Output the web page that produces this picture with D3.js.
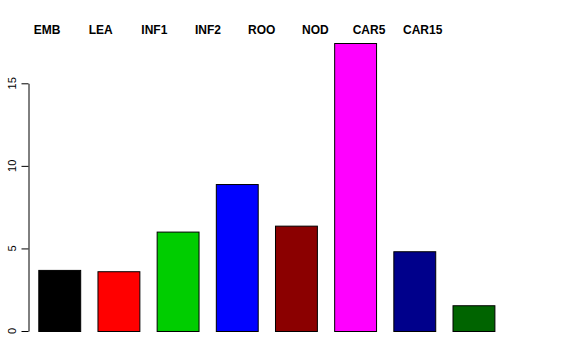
<!DOCTYPE html>
<html>
<head>
<meta charset="utf-8">
<script src="https://cdn.jsdelivr.net/npm/d3@7"></script>
<style>
  body { margin: 0; background: #fff; }
  text { font-family: "Liberation Sans", Arial, sans-serif; }
</style>
</head>
<body>
<svg width="576" height="360"></svg>
<script>
var tissues = ["EMB", "LEA", "INF1", "INF2", "ROO", "NOD", "CAR5", "CAR15"];
var values = [3.70, 3.62, 6.02, 8.9, 6.38, 17.44, 4.83, 1.56];
var colors = ["#000000", "#ff0000", "#00cd00", "#0000ff", "#8b0000", "#ff00ff", "#00008b", "#006400"];
var yTicks = [0, 5, 10, 15];

var svg = d3.select("svg");

// bar positions and value scale
var x = d3.scaleBand().domain(tissues).range([38.3, 494.4]).paddingInner(0.292).paddingOuter(0),
    y = d3.scaleLinear().domain([0, 15]).range([331, 83.3]);

// tissue names along the top, evenly spaced (not over the bars)
var lab = d3.scalePoint().domain(tissues).range([47, 422.7]);

svg.selectAll(".bar")
    .data(values)
    .enter().append("rect")
    .attr("class", "bar")
    .attr("x", function (d, i) { return x(tissues[i]) + 0.5; })
    .attr("y", function (d) { return y(d) + 0.5; })
    .attr("width", x.bandwidth())
    .attr("height", function (d) { return y(0) - y(d); })
    .attr("fill", function (d, i) { return colors[i]; })
    .attr("stroke", "#000")
    .attr("stroke-width", 1);

// y axis, R style with rotated labels
var ax = svg.append("g")
    .attr("transform", "translate(28.5,0)")
    .call(d3.axisLeft(y).tickValues(yTicks).tickSize(7).tickPadding(0).tickSizeOuter(0));
ax.select(".domain").attr("stroke", "#000");
ax.selectAll(".tick line").attr("stroke", "#000");
ax.selectAll(".tick text").remove();

svg.selectAll(".ylab")
    .data(yTicks)
    .enter().append("text")
    .attr("class", "ylab")
    .attr("transform", function (d) { return "translate(15.5," + y(d) + ") rotate(-90)"; })
    .attr("text-anchor", "middle")
    .attr("font-size", 11)
    .text(function (d) { return d; });

svg.selectAll(".tlab")
    .data(tissues)
    .enter().append("text")
    .attr("class", "tlab")
    .attr("x", function (d) { return lab(d); })
    .attr("y", 34.3)
    .attr("text-anchor", "middle")
    .attr("font-size", 12)
    .attr("font-weight", "bold")
    .text(function (d) { return d; });
</script>
</body>
</html>
